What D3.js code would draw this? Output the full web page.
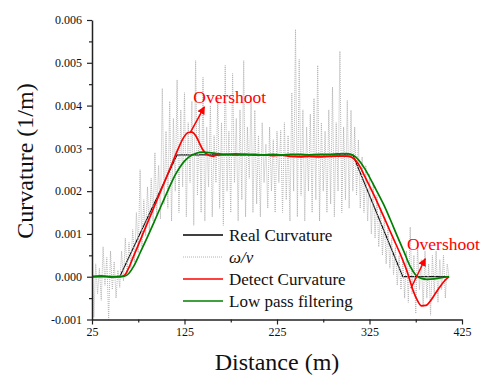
<!DOCTYPE html>
<html>
<head>
<meta charset="utf-8">
<script src="https://cdn.jsdelivr.net/npm/d3@7"></script>
<style>
  body { margin: 0; background: #fff; }
  svg { display: block; }
</style>
</head>
<body>
<svg id="chart"></svg>
<script>
// curvature values are written in 1e-3 (1/m), distances in m
const realDist = [25, 55, 117, 307, 361, 411];
const realCurv = [0, 0, 2.85, 2.85, 0, 0];

const detectDist = [25, 35, 45, 55, 60, 65, 70, 80, 90, 100, 110, 118, 124, 129, 133, 137, 141, 145, 150, 155,
  160, 170, 180, 190, 200, 210, 220, 230, 240, 250, 260, 270, 280, 290, 300, 305, 310, 315, 320, 330,
  340, 350, 360, 366, 371, 376, 381, 386, 391, 396, 401, 406, 411];
const detectCurv = [0, 0.02, -0.01, 0, 0.03, 0.22, 0.48, 1.0, 1.52, 2.04, 2.56, 2.98, 3.25, 3.37, 3.38, 3.3, 3.13, 2.96, 2.85, 2.82,
  2.84, 2.86, 2.85, 2.86, 2.84, 2.85, 2.83, 2.84, 2.81, 2.8, 2.81, 2.8, 2.81, 2.82, 2.82, 2.8, 2.72, 2.56, 2.34, 1.9,
  1.42, 0.93, 0.44, 0.1, -0.25, -0.52, -0.68, -0.67, -0.56, -0.4, -0.24, -0.1, 0];

const lowDist = [25, 40, 55, 60, 65, 70, 77, 85, 92, 100, 108, 115, 120, 125, 130, 137, 145, 152, 160, 170,
  180, 190, 200, 210, 220, 230, 240, 250, 260, 270, 280, 290, 300, 305, 310, 315, 320, 330, 340, 347,
  355, 362, 369, 375, 381, 387, 395, 403, 411];
const lowCurv = [0, 0.01, 0, 0.01, 0.08, 0.24, 0.56, 0.93, 1.27, 1.67, 2.06, 2.38, 2.56, 2.7, 2.8, 2.88, 2.91, 2.9, 2.88, 2.86,
  2.87, 2.86, 2.86, 2.85, 2.86, 2.85, 2.86, 2.86, 2.85, 2.86, 2.86, 2.87, 2.88, 2.86, 2.8, 2.68, 2.52, 2.12, 1.7, 1.36,
  0.95, 0.6, 0.24, 0.04, -0.04, -0.06, -0.05, -0.02, 0];

// omega / v samples, every 2 m from 25 m
const omegaStart = 25;
const omegaStep = 2;
const omegaCurv = [
  0.85, -0.95, 0.3, -0.4, 0.2, -0.55, 0.7, -0.2, 0.45, -1.0,
  0.6, -0.3, 0.35, -0.5, 0.15, -0.25, 0.6, -0.1, 0.9, 0.1,
  0.8, 0.2, 1.1, 0.35, 1.5, 0.55, 2.5, 0.7, 1.8, 0.95,
  2.1, 1.05, 2.3, 1.3, 2.9, 1.45, 2.6, 1.35, 4.4, 1.7,
  3.4, 1.6, 4.1, 1.3, 3.7, 2.0, 4.6, 1.5, 3.9, 2.1,
  4.3, 1.4, 3.6, 2.2, 4.1, 1.2, 5.05, 1.9, 3.8, 1.5,
  4.66, 1.3, 3.5, 2.1, 4.0, 1.4, 3.3, 2.2, 4.2, 1.6,
  3.6, 1.2, 4.94, 2.0, 3.4, 1.5, 4.75, 2.2, 3.7, 1.3,
  3.9, 1.8, 5.05, 1.4, 3.5, 2.3, 4.2, 1.5, 3.89, 1.7,
  3.3, 1.4, 3.6, 2.2, 3.1, 1.6, 3.5, 2.0, 3.2, 1.5,
  3.4, 2.2, 3.42, 1.5, 3.6, 1.8, 3.3, 1.3, 4.3, 2.0,
  5.78, 1.4, 5.08, 1.9, 3.9, 1.3, 3.5, 2.0, 3.8, 1.5,
  4.17, 1.8, 4.94, 1.3, 3.6, 2.0, 3.4, 1.5, 3.9, 1.7,
  4.43, 1.4, 3.6, 2.0, 5.27, 1.5, 3.5, 1.8, 4.12, 1.6,
  3.89, 2.0, 3.5, 1.9, 3.2, 1.6, 2.8, 1.5, 2.6, 1.3,
  2.4, 1.0, 2.2, 0.9, 1.9, 0.7, 1.6, 0.5, 1.4, 0.3,
  1.2, 0.2, 0.9, 0.05, 0.7, -0.2, 0.5, -0.3, 0.4, -0.5,
  0.6, -0.6, 1.16, -0.4, 0.5, -0.86, 0.7, -0.3, 0.4, -0.7,
  0.6, -0.5, 0.3, -0.9, 0.5, -0.4, 0.6, -0.6, 0.4, -0.3,
  0.5, -0.5, 0.3, 0.0
];

const xTicks = [25, 125, 225, 325, 425];
const xMinorTicks = [75, 175, 275, 375];
const yTicks = [-0.001, 0, 0.001, 0.002, 0.003, 0.004, 0.005, 0.006];
const yMinorTicks = [-0.0005, 0.0005, 0.0015, 0.0025, 0.0035, 0.0045, 0.0055];

const legendLabels = ['Real Curvature', 'ω/v', 'Detect Curvature', 'Low pass filtering'];
const legendColors = ['#000000', '#b4b4b4', '#ff0000', '#008000'];

// annotation anchors in data units (distance, 1e-3 curvature)
const notes = [
  { text: 'Overshoot', tx: 134.5, ty: 4.07, from: [131.5, 3.38], to: [146.5, 3.97] },
  { text: 'Overshoot', tx: 365.5, ty: 0.62, from: [369.8, -0.27], to: [385.3, 0.42] },
];

const width = 481;
const height = 376;
const marginLeft = 92;
const marginRight = 19;
const marginTop = 20;
const marginBottom = 56.5;
const serif = '"Liberation Serif", "Times New Roman", serif';

const svg = d3.select('#chart').attr('width', width).attr('height', height).attr('viewBox', [0, 0, width, height]);

const x = d3.scaleLinear([25, 425], [marginLeft, width - marginRight]);
const y = d3.scaleLinear([-0.001, 0.006], [height - marginBottom, marginTop]);
const milli = (v) => v * 1e-3;

/**
 * curves
 */
const plot = svg.append('g');
const linePath = (dist, curv, curve) =>
  d3
    .line()
    .curve(curve)
    .x((i) => x(dist[i]))
    .y((i) => y(milli(curv[i])))(dist.map((_, i) => i));

plot
  .append('path')
  .attr('fill', 'none')
  .attr('stroke', legendColors[0])
  .attr('stroke-width', 1.2)
  .attr('d', linePath(realDist, realCurv, d3.curveLinear));

const omegaDist = omegaCurv.map((_, i) => omegaStart + i * omegaStep);
plot
  .append('path')
  .attr('fill', 'none')
  .attr('stroke', legendColors[1])
  .attr('stroke-width', 1)
  .attr('stroke-dasharray', '1,1')
  .attr('d', linePath(omegaDist, omegaCurv, d3.curveLinear));

plot
  .append('path')
  .attr('fill', 'none')
  .attr('stroke', legendColors[2])
  .attr('stroke-width', 1.7)
  .attr('stroke-linejoin', 'round')
  .attr('d', linePath(detectDist, detectCurv, d3.curveMonotoneX));

plot
  .append('path')
  .attr('fill', 'none')
  .attr('stroke', legendColors[3])
  .attr('stroke-width', 1.7)
  .attr('stroke-linejoin', 'round')
  .attr('d', linePath(lowDist, lowCurv, d3.curveMonotoneX));

/**
 * axes
 */
const yFormat = (v) => (v < 0 ? '-' : '') + Math.abs(v).toFixed(3);
const styleAxis = (g) => {
  g.attr('font-family', serif).attr('font-size', 12);
  g.select('.domain').attr('stroke', '#222').attr('stroke-width', 1.5);
  g.selectAll('.tick line').attr('stroke', '#222').attr('stroke-width', 1.2);
  g.selectAll('.tick text').attr('fill', '#111').style('font-family', serif).style('font-size', '12px');
};

svg
  .append('g')
  .attr('transform', `translate(0,${height - marginBottom})`)
  .call(d3.axisBottom(x).tickValues(xMinorTicks).tickSize(3).tickFormat(''))
  .call((g) => g.select('.domain').remove())
  .call((g) => g.selectAll('.tick line').attr('stroke', '#222').attr('stroke-width', 1.2));
svg
  .append('g')
  .attr('transform', `translate(0,${height - marginBottom})`)
  .call(d3.axisBottom(x).tickValues(xTicks).tickSize(5).tickSizeOuter(0).tickPadding(3))
  .call(styleAxis);

svg
  .append('g')
  .attr('transform', `translate(${marginLeft},0)`)
  .call(d3.axisLeft(y).tickValues(yMinorTicks).tickSize(3).tickFormat(''))
  .call((g) => g.select('.domain').remove())
  .call((g) => g.selectAll('.tick line').attr('stroke', '#222').attr('stroke-width', 1.2));
svg
  .append('g')
  .attr('transform', `translate(${marginLeft},0)`)
  .call(d3.axisLeft(y).tickValues(yTicks).tickSize(5).tickSizeOuter(0).tickPadding(5).tickFormat(yFormat))
  .call(styleAxis);

svg
  .append('text')
  .attr('transform', `translate(33,161) rotate(-90)`)
  .attr('text-anchor', 'middle')
  .style('font-family', serif)
  .style('font-size', '24px')
  .attr('fill', '#111')
  .text('Curvature (1/m)');

svg
  .append('text')
  .attr('x', 277)
  .attr('y', 370)
  .attr('text-anchor', 'middle')
  .style('font-family', serif)
  .style('font-size', '24px')
  .attr('fill', '#111')
  .text('Distance (m)');

/**
 * legend
 */
const legend = svg.append('g').attr('transform', 'translate(183,235)');
legendLabels.forEach((label, i) => {
  const row = legend.append('g').attr('transform', `translate(0,${i * 22})`);
  row
    .append('line')
    .attr('x1', 0)
    .attr('x2', 40)
    .attr('stroke', legendColors[i])
    .attr('stroke-width', i === 1 ? 1 : 1.6)
    .attr('stroke-dasharray', i === 1 ? '1,1' : null);
  row
    .append('text')
    .attr('x', 46)
    .attr('dy', '0.33em')
    .style('font-family', serif)
    .style('font-size', '17px')
    .style('font-style', i === 1 ? 'italic' : null)
    .attr('fill', '#111')
    .text(label);
});

/**
 * overshoot notes
 */
svg
  .append('defs')
  .append('marker')
  .attr('id', 'arrow')
  .attr('viewBox', '0 0 10 10')
  .attr('refX', 9)
  .attr('refY', 5)
  .attr('markerWidth', 8)
  .attr('markerHeight', 8)
  .attr('markerUnits', 'userSpaceOnUse')
  .attr('orient', 'auto')
  .append('path')
  .attr('d', 'M0,0L10,5L0,10z')
  .attr('fill', '#ff0000');

notes.forEach((n) => {
  svg
    .append('line')
    .attr('x1', x(n.from[0]))
    .attr('y1', y(milli(n.from[1])))
    .attr('x2', x(n.to[0]))
    .attr('y2', y(milli(n.to[1])))
    .attr('stroke', '#ff0000')
    .attr('stroke-width', 1.5)
    .attr('marker-end', 'url(#arrow)');
  svg
    .append('text')
    .attr('x', x(n.tx))
    .attr('y', y(milli(n.ty)))
    .style('font-family', serif)
    .style('font-size', '17.5px')
    .attr('fill', '#ff0000')
    .text(n.text);
});
</script>
</body>
</html>
